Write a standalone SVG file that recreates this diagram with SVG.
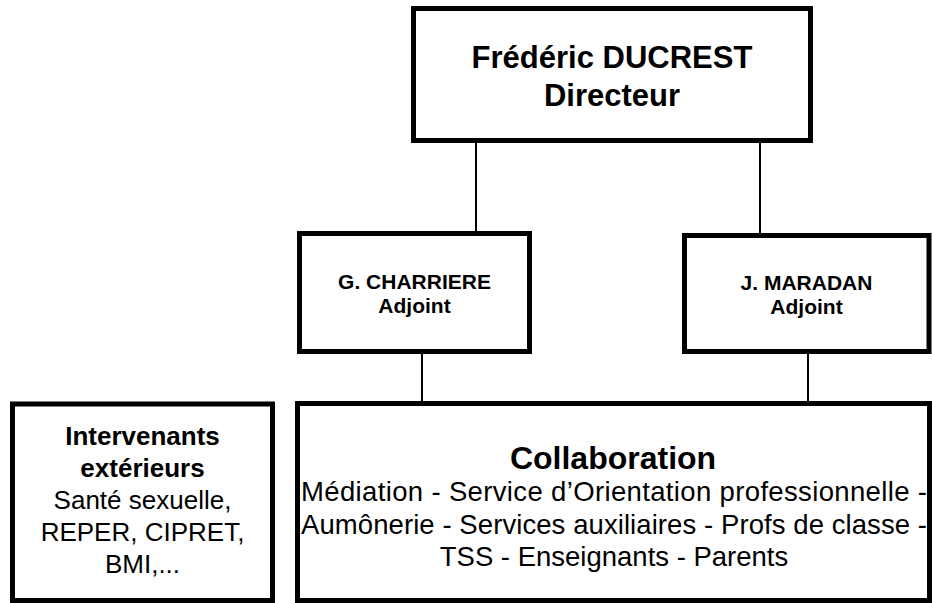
<svg xmlns="http://www.w3.org/2000/svg" width="932" height="603" viewBox="0 0 932 603">
<style>
.box{fill:#fff;stroke:#000;stroke-width:5}
.con{stroke:#000;stroke-width:2;fill:none}
text{font-family:"Liberation Sans",Arial,sans-serif;fill:#000;text-anchor:middle}
.b{font-weight:bold}
</style>
<rect width="932" height="603" fill="#fff"/>
<g id="connectors">
<line class="con" x1="476" y1="143" x2="476" y2="232"/>
<line class="con" x1="760" y1="143" x2="760" y2="234"/>
<line class="con" x1="422" y1="353" x2="422" y2="402"/>
<line class="con" x1="808" y1="353" x2="808" y2="402"/>
</g>
<g id="directeur">
<rect class="box" x="413.5" y="8.5" width="397" height="132"/>
<text class="b" x="612" y="68" font-size="31">Frédéric DUCREST</text>
<text class="b" x="612" y="106" font-size="31">Directeur</text>
</g>
<g id="charriere">
<rect class="box" x="299.5" y="233.5" width="230" height="118"/>
<text class="b" x="414.5" y="289" font-size="21">G. CHARRIERE</text>
<text class="b" x="414.5" y="313" font-size="21">Adjoint</text>
</g>
<g id="maradan">
<rect class="box" x="684.5" y="235.5" width="244.5" height="116"/>
<text class="b" x="806.5" y="290" font-size="21">J. MARADAN</text>
<text class="b" x="806.5" y="314" font-size="21">Adjoint</text>
</g>
<g id="intervenants">
<rect class="box" x="12.5" y="404" width="260" height="196.5"/>
<text class="b" x="142.5" y="445" font-size="26">Intervenants</text>
<text class="b" x="142.5" y="477" font-size="26">extérieurs</text>
<text x="142.5" y="509" font-size="26">Santé sexuelle,</text>
<text x="142.5" y="541" font-size="26">REPER, CIPRET,</text>
<text x="142.5" y="573" font-size="26">BMI,...</text>
</g>
<g id="collaboration">
<rect class="box" x="297.5" y="403.5" width="632" height="197"/>
<text class="b" x="613" y="469" font-size="32">Collaboration</text>
<text x="301" y="501" font-size="27.5" style="text-anchor:start" textLength="626" lengthAdjust="spacing">Médiation - Service d’Orientation professionnelle -</text>
<text x="301" y="534" font-size="27.5" style="text-anchor:start" textLength="626" lengthAdjust="spacing">Aumônerie - Services auxiliaires - Profs de classe -</text>
<text x="614" y="566" font-size="27.5">TSS - Enseignants - Parents</text>
</g>
</svg>
